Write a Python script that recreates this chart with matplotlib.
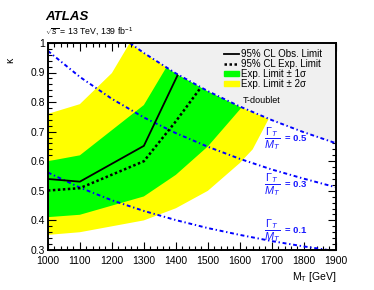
import numpy as np
import matplotlib
matplotlib.use("Agg")
import matplotlib.pyplot as plt
from matplotlib.lines import Line2D
from matplotlib.patches import Patch
from matplotlib.ticker import MultipleLocator, FuncFormatter

plt.rcParams['font.family'] = ['Liberation Sans', 'DejaVu Sans']
plt.rcParams['mathtext.fontset'] = 'custom'
plt.rcParams['mathtext.rm'] = 'Liberation Sans'
plt.rcParams['mathtext.it'] = 'Liberation Sans:italic'
plt.rcParams['mathtext.bf'] = 'Liberation Sans:bold'

# width contours (Gamma_T / M_T)
width_mass = [1000, 1100, 1200, 1300, 1400, 1500, 1600, 1700, 1800, 1900]
width01_kappa = [0.562, 0.511, 0.468, 0.432, 0.401, 0.374, 0.351, 0.330, 0.312, 0.296]
width03_kappa = [0.973, 0.885, 0.811, 0.748, 0.695, 0.649, 0.608, 0.572, 0.541, 0.512]
width05_mass = [1256, 1300, 1400, 1500, 1600, 1700, 1800, 1900]
width05_kappa = [1.0, 0.966, 0.897, 0.837, 0.785, 0.739, 0.698, 0.661]

# limits
obs_mass = [1000, 1100, 1300, 1405]
obs_kappa = [0.540, 0.531, 0.652, 0.890]
exp_mass = [1000, 1100, 1300, 1400, 1475]
exp_kappa = [0.501, 0.509, 0.600, 0.735, 0.845]

# +-1 sigma band
sig1_lo_mass = [1000, 1100, 1200, 1300, 1400, 1500, 1605]
sig1_lo_kappa = [0.411, 0.419, 0.450, 0.481, 0.554, 0.650, 0.781]
sig1_hi_mass = [1000, 1100, 1200, 1300, 1370]
sig1_hi_kappa = [0.600, 0.620, 0.705, 0.790, 0.917]

# +-2 sigma band
sig2_lo_mass = [1000, 1100, 1200, 1300, 1400, 1500, 1600, 1640, 1690]
sig2_lo_kappa = [0.351, 0.360, 0.380, 0.400, 0.441, 0.500, 0.594, 0.640, 0.743]
sig2_hi_mass = [1000, 1100, 1200, 1256]
sig2_hi_kappa = [0.760, 0.793, 0.898, 1.0]

width_labels = [('0.5', 0.676), ('0.3', 0.520), ('0.1', 0.366)]

fig = plt.figure(figsize=(3.74, 2.9), dpi=100)
ax = fig.add_axes([0.128, 0.138, 0.77, 0.714])

def band(lo_m, lo_k, hi_m, hi_k):
    xs = np.concatenate([lo_m, hi_m[::-1]])
    ys = np.concatenate([lo_k, hi_k[::-1]])
    return xs, ys

x2, y2 = band(sig2_lo_mass, sig2_lo_kappa, sig2_hi_mass, sig2_hi_kappa)
ax.fill(x2, y2, color='#ffff00', lw=0, zorder=1)
x1, y1 = band(sig1_lo_mass, sig1_lo_kappa, sig1_hi_mass, sig1_hi_kappa)
ax.fill(x1, y1, color='#00ff00', lw=0, zorder=2)

# T-doublet excluded region
ax.fill_between(width05_mass, width05_kappa, 1.0, color='#f0f0f0', lw=0, zorder=3)

blue_ls = (0, (2.0, 1.4, 0.7, 1.4))
for m, k in [(width_mass, width01_kappa), (width_mass, width03_kappa),
             (width05_mass, width05_kappa)]:
    ax.plot(m, k, color='#0000ff', lw=1.4, ls=blue_ls, zorder=4)

ax.plot(obs_mass, obs_kappa, color='black', lw=1.3, zorder=5)
ax.plot(exp_mass, exp_kappa, color='black', lw=1.8, ls=(0, (1, 1)), zorder=5)

for val, yk in width_labels:
    ax.text(1676, yk, r'$\dfrac{\Gamma_T}{M_T}$', color='#1a1aff',
            fontsize=7.8, fontweight='bold', ha='left', va='center', zorder=6)
    ax.text(1740, yk, '= ' + val, color='#1a1aff',
            fontsize=6.8, fontweight='bold', ha='left', va='center', zorder=6)

ax.text(1669, 0.807, 'T-doublet', fontsize=6.5, ha='center', va='center', zorder=6)

handles = [Line2D([], [], color='black', lw=1.3),
           Line2D([], [], color='black', lw=1.8, ls=(0, (1, 1))),
           Patch(color='#00ff00'), Patch(color='#ffff00')]
labels = ['95% CL Obs. Limit', '95% CL Exp. Limit',
          'Exp. Limit ± 1σ', 'Exp. Limit ± 2σ']
ax.legend(handles, labels, loc='upper left', bbox_to_anchor=(0.61, 0.97),
          frameon=False, fontsize=7, handlelength=1.6, handleheight=0.5,
          handletextpad=0.2, labelspacing=0.0, borderpad=0, borderaxespad=0)

ax.set_xlim(1000, 1900)
ax.set_ylim(0.3, 1.0)
ax.xaxis.set_major_locator(MultipleLocator(100))
ax.xaxis.set_minor_locator(MultipleLocator(20))
ax.yaxis.set_major_locator(MultipleLocator(0.1))
ax.yaxis.set_minor_locator(MultipleLocator(0.02))
ax.yaxis.set_major_formatter(FuncFormatter(lambda v, p: '1' if abs(v - 1) < 1e-6 else f'{v:.1f}'))
ax.tick_params(which='both', direction='in', top=True, right=True, labelsize=7.5, width=0.8)
ax.tick_params(which='major', length=6)
ax.tick_params(axis='x', which='major', pad=4)
ax.tick_params(axis='y', which='major', pad=2)
ax.tick_params(which='minor', length=3)
for s in ax.spines.values():
    s.set_linewidth(1.4)
    s.set_zorder(10)

ax.set_xlabel(r'M$_\mathregular{T}$ [GeV]', loc='right', fontsize=7.5, labelpad=3)
ax.set_ylabel('κ', loc='top', fontsize=7.5)
ax.yaxis.set_label_coords(-0.115, 0.93)

fig.text(0.12, 1 - 19.5 / 290, 'ATLAS', fontsize=9.5, fontweight='bold',
         style='italic', ha='left', va='baseline')
fig.text(0.12, 1 - 35 / 290, r'$\sqrt{s}$ = 13 TeV, 139 fb$^{-1}$', fontsize=6.3,
         ha='left', va='baseline')

fig.savefig('out.png', dpi=100)
